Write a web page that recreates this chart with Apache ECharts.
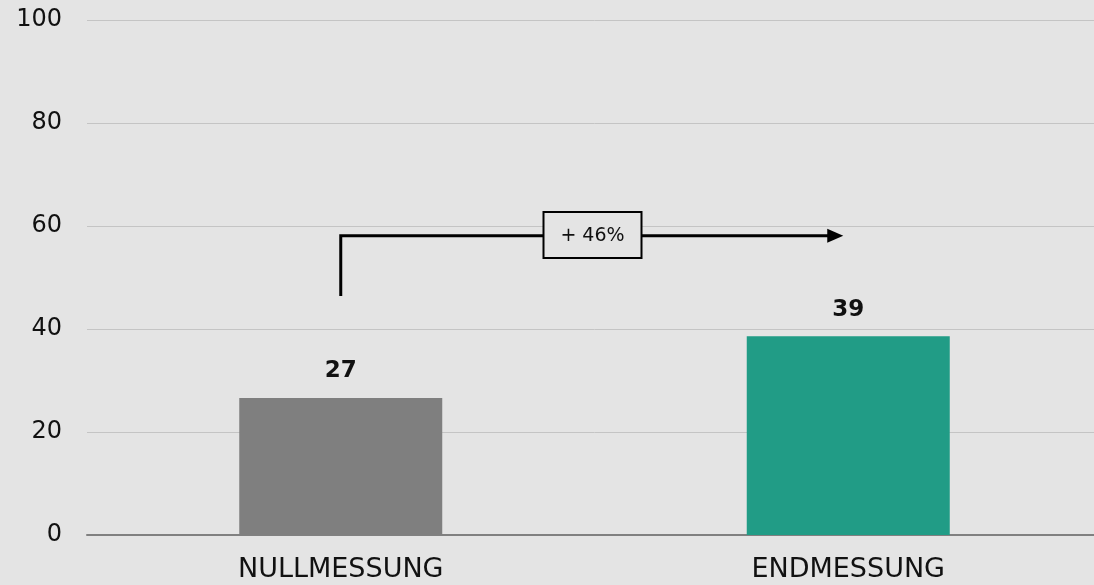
<!DOCTYPE html>
<html>
<head>
<meta charset="utf-8">
<script src="https://cdn.jsdelivr.net/npm/echarts@6/dist/echarts.min.js"></script>
<style>
  html, body { margin: 0; padding: 0; background: #e4e4e4; overflow: hidden; }
  /* slightly wider than the window: the plot runs past the right edge */
  #chart { width: 1110px; height: 585px; }
</style>
</head>
<body>
<div id="chart"></div>
<script>
const categories = ["NULLMESSUNG", "ENDMESSUNG"];
const values = [26.6, 38.6];
const valueLabels = ["27", "39"];
const barColors = ["#7f7f7f", "#219c86"];
const yTicks = [0, 20, 40, 60, 80, 100];
const changeText = "+ 46%";
// arrow path levels (y values)
const arrowStart = 46.4;
const arrowLevel = 58.1;
const boxTop = 62.7;
const boxBottom = 53.8;

const font = "DejaVu Sans";
const chart = echarts.init(document.getElementById("chart"));

chart.setOption({
  backgroundColor: "#e4e4e4",
  animation: false,
  grid: { left: 87, right: 8, top: 20, bottom: 50, containLabel: false },
  xAxis: {
    type: "category",
    data: categories,
    axisTick: { show: false },
    axisLine: { lineStyle: { color: "#808080", width: 2 } },
    axisLabel: { color: "#111", fontSize: 27, fontFamily: font, margin: 21 }
  },
  yAxis: {
    type: "value",
    min: yTicks[0],
    max: yTicks[yTicks.length - 1],
    interval: 20,
    axisLine: { show: false },
    axisTick: { show: false },
    splitLine: { lineStyle: { color: "#c4c4c4", width: 1 } },
    axisLabel: { color: "#111", fontSize: 24, fontFamily: font, margin: 25 }
  },
  series: [{
    type: "bar",
    barWidth: "40%",
    data: values.map((v, i) => ({ value: v, itemStyle: { color: barColors[i] } })),
    label: {
      show: true,
      position: "top",
      distance: 15,
      color: "#111",
      fontSize: 23,
      fontWeight: "bold",
      fontFamily: font,
      formatter: p => valueLabels[p.dataIndex]
    }
  }]
});

// annotation arrow, positioned through the chart's own scales
const p0 = chart.convertToPixel({ gridIndex: 0 }, [0, arrowStart]);
const p1 = chart.convertToPixel({ gridIndex: 0 }, [0, arrowLevel]);
const p2 = chart.convertToPixel({ gridIndex: 0 }, [1, arrowLevel]);
const bt = chart.convertToPixel({ gridIndex: 0 }, [0, boxTop])[1];
const bb = chart.convertToPixel({ gridIndex: 0 }, [0, boxBottom])[1];
const midX = (p1[0] + p2[0]) / 2 - 2;
const boxW = 98;
const headLen = 14;

chart.setOption({
  graphic: [
    {
      type: "polyline",
      shape: { points: [p0, p1, [p2[0] - 5 - headLen, p2[1]]] },
      style: { stroke: "#000", lineWidth: 3, fill: null }
    },
    {
      type: "polygon",
      shape: { points: [[p2[0] - 5 - headLen - 2, p2[1] - 7], [p2[0] - 5, p2[1]], [p2[0] - 5 - headLen - 2, p2[1] + 7]] },
      style: { fill: "#000" }
    },
    {
      type: "rect",
      shape: { x: midX - boxW / 2, y: bt, width: boxW, height: bb - bt },
      style: { fill: "#e4e4e4", stroke: "#000", lineWidth: 2 }
    },
    {
      type: "text",
      x: midX,
      y: (bt + bb) / 2 + 1,
      style: {
        text: changeText,
        fill: "#111",
        fontSize: 19,
        fontFamily: font,
        align: "center",
        verticalAlign: "middle"
      }
    }
  ]
});
</script>
</body>
</html>
